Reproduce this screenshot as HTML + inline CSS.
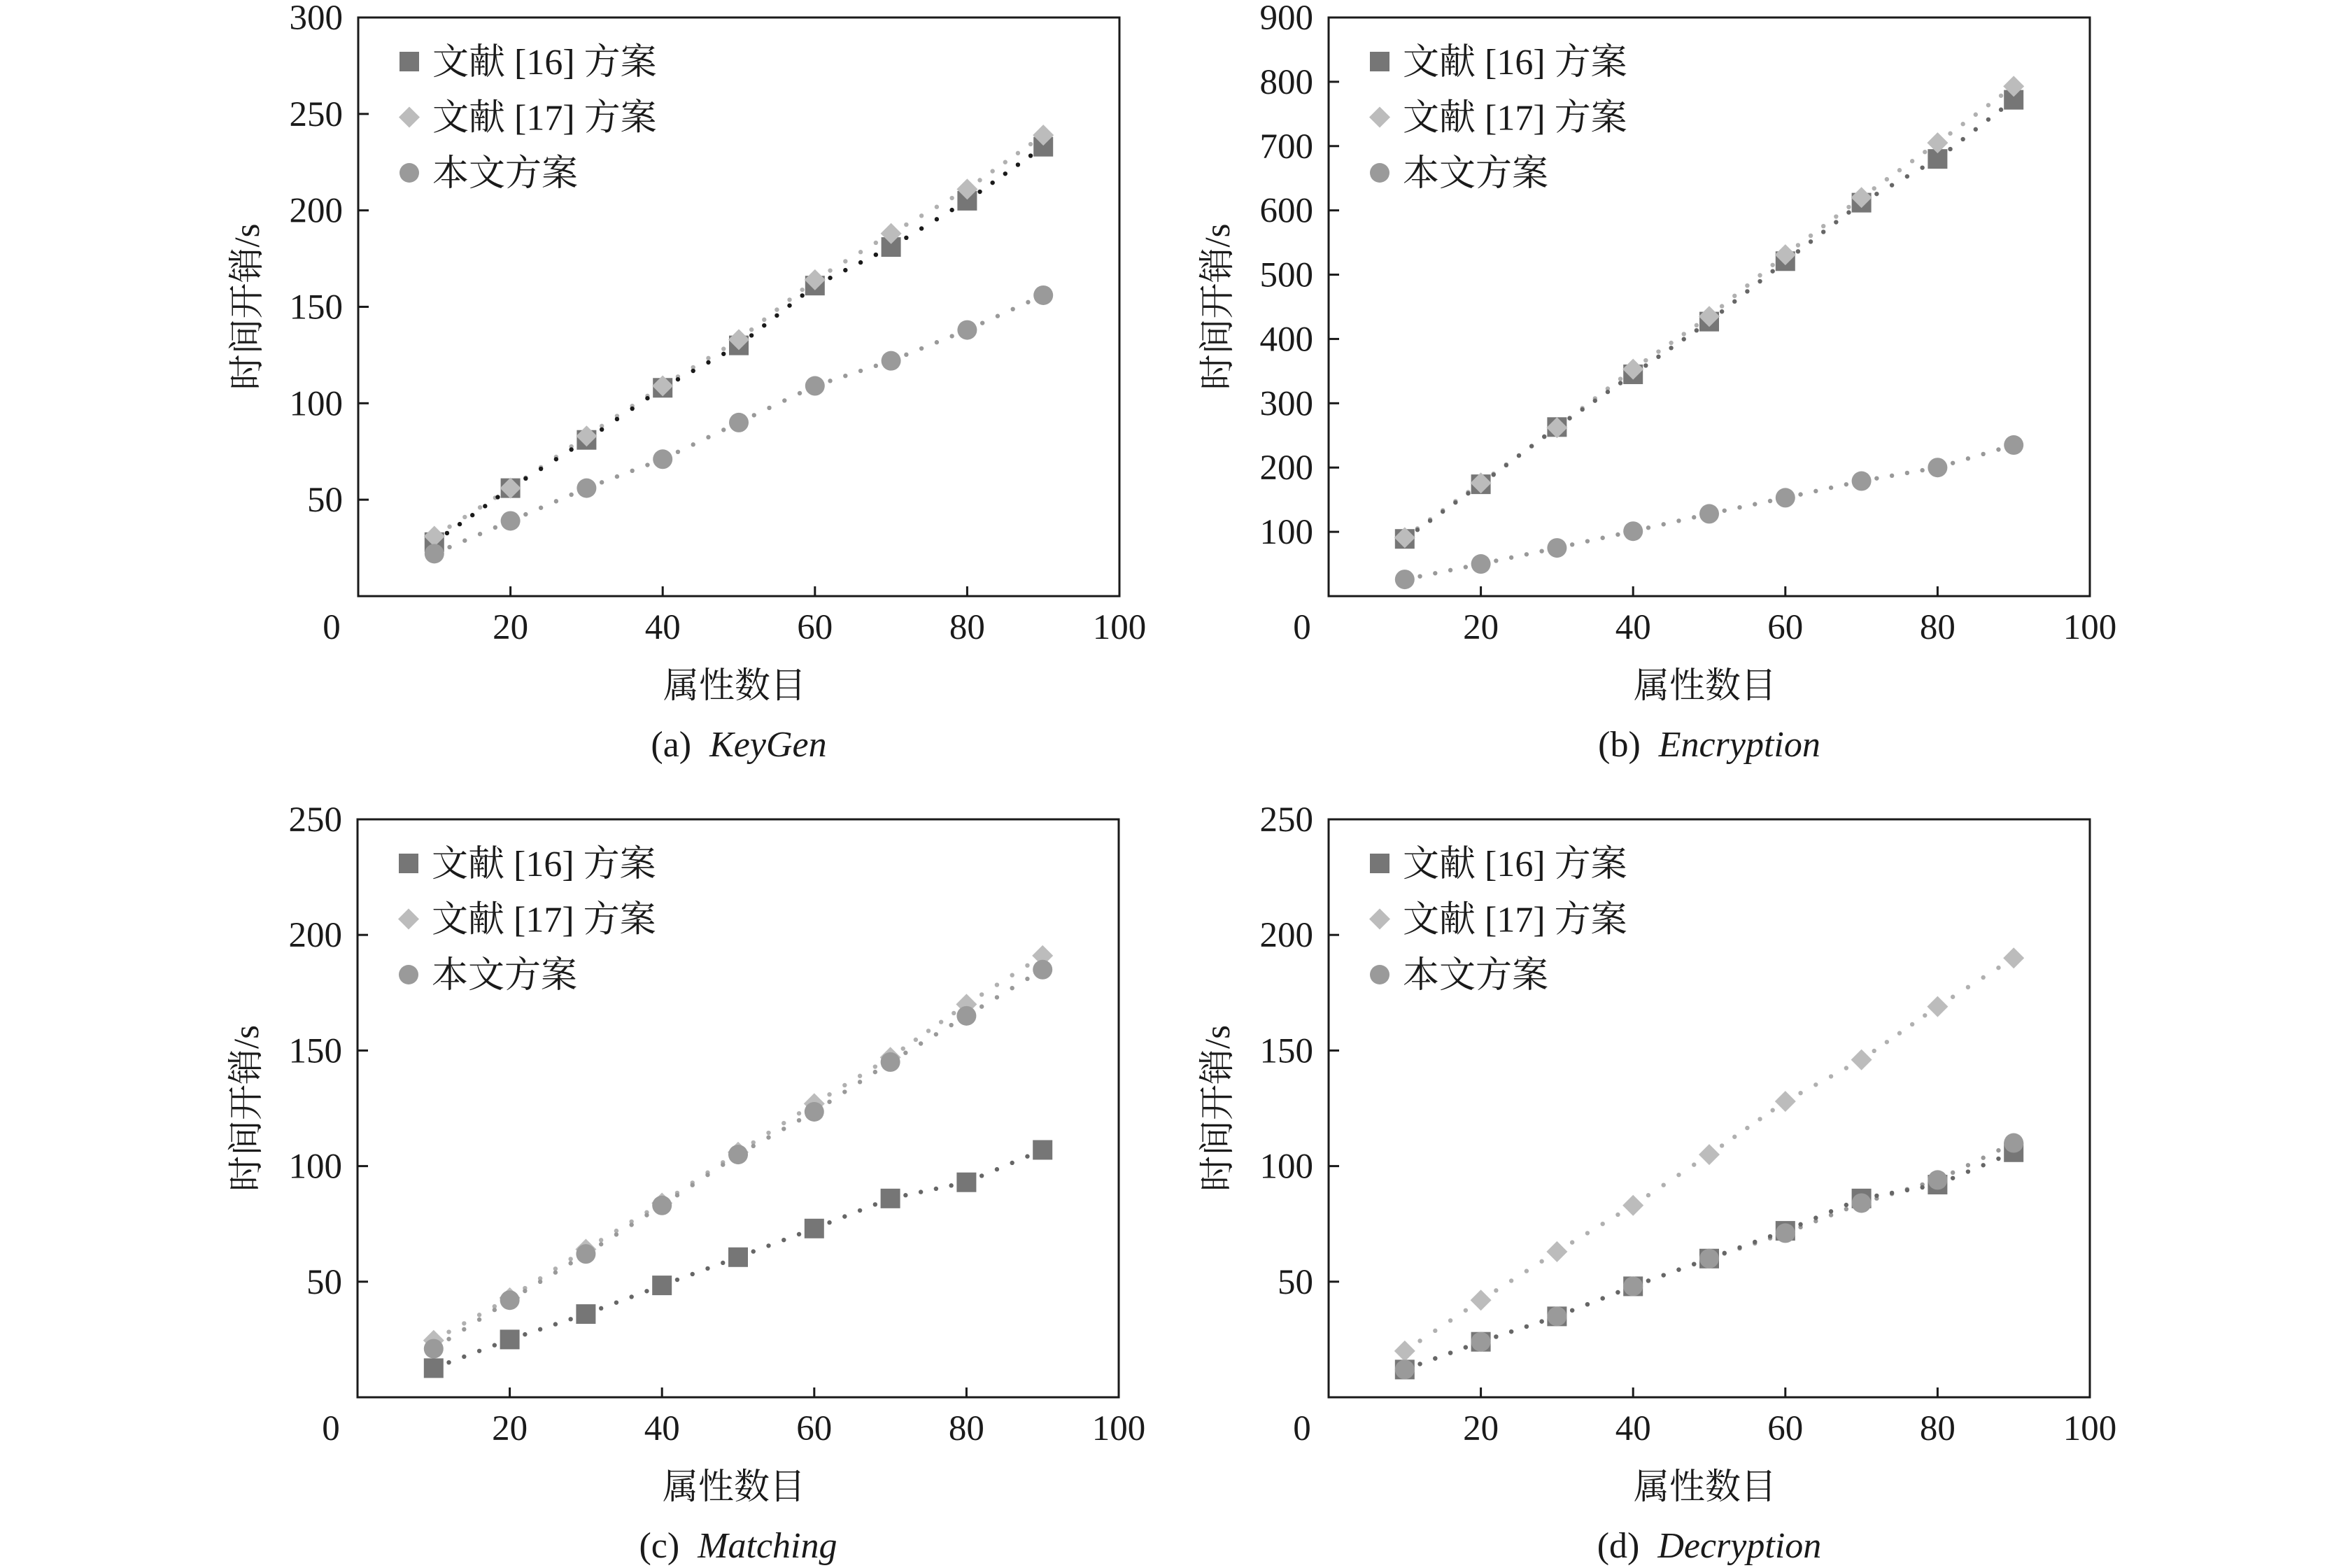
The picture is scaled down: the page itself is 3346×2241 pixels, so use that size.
<!DOCTYPE html>
<html><head><meta charset="utf-8">
<style>
html,body{margin:0;padding:0;background:#fff;}
svg{display:block;}
text{font-family:"Liberation Serif","Noto Serif CJK SC","Noto Sans CJK SC",serif;fill:#1a1a1a;}
</style></head>
<body>
<svg id="fig" width="3346" height="2241" viewBox="0 0 3346 2241" xmlns="http://www.w3.org/2000/svg"></svg>
<script>
const xCats = [10, 20, 30, 40, 50, 60, 70, 80, 90];
const xTicks = [0, 20, 40, 60, 80, 100];
const keygen16 = [28, 56, 81, 108, 130, 161, 181, 205, 233];
const keygen17 = [31, 56, 83, 109, 133, 164, 188, 211, 239];
const keygenOurs = [22, 39, 56, 71, 90, 109, 122, 138, 156];
const keygenTicks = [50, 100, 150, 200, 250, 300];
const enc16 = [89, 174, 263, 345, 427, 521, 612, 680, 772];
const enc17 = [91, 176, 262, 353, 435, 531, 620, 705, 793];
const encOurs = [26, 50, 75, 101, 128, 153, 179, 200, 235];
const encTicks = [100, 200, 300, 400, 500, 600, 700, 800, 900];
const match16 = [12.6, 25, 36, 48.4, 60.6, 73, 86, 93, 107];
const match17 = [24.6, 43, 64, 84, 106, 127, 147, 170, 191];
const matchOurs = [21, 42, 62, 83, 105, 123.5, 145, 165, 185];
const matchTicks = [50, 100, 150, 200, 250];
const dec16 = [12, 24, 35, 48, 60, 72, 86, 92, 106];
const dec17 = [20, 42, 63, 83, 105, 128, 146, 169, 190];
const decOurs = [12, 24, 35, 48, 60, 71, 84, 94, 110];
const decTicks = [50, 100, 150, 200, 250];

const NS = "http://www.w3.org/2000/svg";
const svg = document.getElementById('fig');
function mk(tag, attrs, parent){
  const e = document.createElementNS(NS, tag);
  for (const k in attrs) e.setAttribute(k, attrs[k]);
  (parent||svg).appendChild(e);
  return e;
}

const panels = [
  {id:'a', name:'keygen', L:512, R:1600, T:25, B:852, ymax:300, ticks:keygenTicks, s16:keygen16, s17:keygen17, so:keygenOurs, cap:'KeyGen', line16:'#1a1a1a'},
  {id:'b', name:'encryption', L:1899, R:2987, T:25, B:852, ymax:900, ticks:encTicks, s16:enc16, s17:enc17, so:encOurs, cap:'Encryption', line16:'#666'},
  {id:'c', name:'matching', L:511, R:1599, T:1171, B:1997, ymax:250, ticks:matchTicks, s16:match16, s17:match17, so:matchOurs, cap:'Matching', line16:'#666'},
  {id:'d', name:'decryption', L:1899, R:2987, T:1171, B:1997, ymax:250, ticks:decTicks, s16:dec16, s17:dec17, so:decOurs, cap:'Decryption', line16:'#666'}
];

function dotted(g, pts, color){
  for (let i=0;i<pts.length-1;i++){
    const [x1,y1]=pts[i],[x2,y2]=pts[i+1];
    const len=Math.hypot(x2-x1,y2-y1);
    const n=Math.max(1,Math.round(len/24));
    for(let k=1;k<n;k++){
      const t=k/n;
      const c=mk('circle',{cx:x1+(x2-x1)*t,cy:y1+(y2-y1)*t,r:3.2,fill:color},g);
      
      
    }
  }
}
function marker(g, type, x, y){
  let e;
  if(type==='sq'){ e=mk('rect',{x:x-14,y:y-14,width:28,height:28,fill:'#767676'},g); }
  else if(type==='di'){ e=mk('polygon',{points:`${x},${y-15} ${x+15},${y} ${x},${y+15} ${x-15},${y}`,fill:'#bcbcbc'},g); }
  else { e=mk('circle',{cx:x,cy:y,r:14,fill:'#9a9a9a'},g); }
  return e;
}

panels.forEach(p=>{
  const g = mk('g',{});
  
  
  const xs = v => p.L + (p.R-p.L)*v/100;
  const ys = v => p.B - (p.B-p.T)*v/p.ymax;
  const fr = mk('rect',{x:p.L,y:p.T,width:p.R-p.L,height:p.B-p.T,fill:'none',stroke:'#1a1a1a','stroke-width':3},g);
  
  
  p.ticks.forEach(t=>{
    const y=ys(t);
    if(t<p.ymax){ const tk=mk('line',{x1:p.L,x2:p.L+15,y1:y,y2:y,stroke:'#1a1a1a','stroke-width':3},g);
        }
    const tx=mk('text',{x:p.L-22,y:y+17,'text-anchor':'end','font-size':51},g);
    tx.textContent=t;
    
    
  });
  xTicks.forEach(t=>{
    const x=xs(t);
    if(t>0&&t<100){ const tk=mk('line',{x1:x,x2:x,y1:p.B,y2:p.B-14,stroke:'#1a1a1a','stroke-width':3},g);
        }
    const tx=mk('text',{x:(t===0?x-38:x),y:p.B+61,'text-anchor':'middle','font-size':51},g);
    tx.textContent=t;
    
    
  });
  const cx=(p.L+p.R)/2;
  const xl=mk('text',{x:cx-6,y:p.B+145,'text-anchor':'middle','font-size':51},g);
  xl.textContent='属性数目';
  
  
  const cy=(p.T+p.B)/2;
  const yl=mk('text',{x:p.L-142,y:cy,'text-anchor':'middle','font-size':51,transform:`rotate(-90 ${p.L-142} ${cy})`},g);
  yl.textContent='时间开销/s';
  
  
  const cap=mk('text',{x:cx,y:p.B+229,'text-anchor':'middle','font-size':52},g);
  cap.innerHTML=`(${p.id})&#160;&#160;<tspan font-style="italic">${p.cap}</tspan>`;
  
  
  const pts=s=>xCats.map((c,i)=>[xs(c),ys(s[i])]);
  dotted(g, pts(p.s17), '#b0b0b0');
  dotted(g, pts(p.so), '#999');
  dotted(g, pts(p.s16), p.line16);
  xCats.forEach((c,i)=>{
    const m1=marker(g,'sq',xs(c),ys(p.s16[i]));
    
    
  });
  xCats.forEach((c,i)=>{
    const m2=marker(g,'di',xs(c),ys(p.s17[i]));
    
    
  });
  xCats.forEach((c,i)=>{
    const m3=marker(g,'ci',xs(c),ys(p.so[i]));
    
    
  });
  const lg=mk('g',{},g);
  
  
  const labels=[['sq','文献 [16] 方案'],['di','文献 [17] 方案'],['ci','本文方案']];
  labels.forEach((l,i)=>{
    const y=p.T+63+i*79.5;
    const m=marker(lg,l[0],p.L+73,y);
    
    
    const t=mk('text',{x:p.L+106,y:y+18,'font-size':52},lg);
    t.textContent=l[1];
    
    
  });
});
</script>
</body></html>
